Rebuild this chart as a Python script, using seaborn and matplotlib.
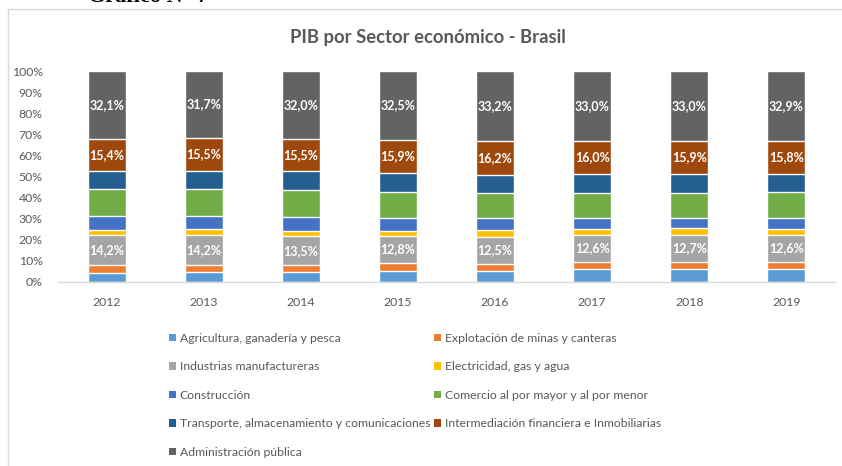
import numpy as np
import pandas as pd
import matplotlib.pyplot as plt
import seaborn as sns
from matplotlib.patches import Patch
from matplotlib.lines import Line2D

# Data (% of GDP per sector)
years = ['2012', '2013', '2014', '2015', '2016', '2017', '2018', '2019']
sectors = ['Agricultura, ganadería y pesca',
           'Explotación de minas y canteras',
           'Industrias manufactureras',
           'Electricidad, gas y agua',
           'Construcción',
           'Comercio al por mayor y al por menor',
           'Transporte, almacenamiento y comunicaciones',
           'Intermediación financiera e Inmobiliarias',
           'Administración pública']
agricultura = [4.3, 4.9, 4.8, 5.2, 5.2, 6.0, 6.1, 6.2]
mineria = [3.6, 3.1, 3.3, 3.9, 3.5, 3.6, 3.6, 3.3]
industria = [14.2, 14.2, 13.5, 12.8, 12.5, 12.6, 12.7, 12.6]
electricidad = [2.7, 2.7, 2.7, 2.5, 3.2, 2.8, 3.0, 2.8]
construccion = [6.6, 6.6, 6.5, 6.0, 5.7, 5.5, 4.7, 5.2]
comercio = [12.6, 12.7, 12.9, 12.1, 11.8, 11.6, 12.1, 12.4]
transporte = [8.5, 8.6, 8.8, 9.1, 8.5, 8.9, 8.8, 8.5]
financiera = [15.4, 15.5, 15.5, 15.9, 16.2, 16.0, 15.9, 15.8]
administracion = [32.1, 31.7, 32.0, 32.5, 33.2, 33.0, 33.0, 32.9]

colors = ['#5B9BD5', '#ED7D31', '#A5A5A5', '#FFC000', '#4472C4',
          '#70AD47', '#255E91', '#9E480E', '#636363']
labeled = [2, 7, 8]  # sectors that carry data labels

values = np.array([agricultura, mineria, industria, electricidad, construccion,
                   comercio, transporte, financiera, administracion])
pct = values / values.sum(axis=0) * 100  # 100% stacked
cum = pct.cumsum(axis=0)

sns.set_style('white')
plt.rcParams['font.family'] = ['Lato', 'DejaVu Sans']

fig = plt.figure(figsize=(8.42, 4.66), dpi=100)
ax = fig.add_axes([58 / 842, 1 - 282 / 466, (835 - 58) / 842, (282 - 71) / 466])

# stacked bars: draw cumulative totals from the top down
for i in range(len(sectors) - 1, -1, -1):
    df = pd.DataFrame({'year': years, 'cum': cum[i]})
    sns.barplot(data=df, x='year', y='cum', color=colors[i], width=0.39,
                saturation=1, ax=ax, zorder=2)

for i in labeled:
    for j, y in enumerate(years):
        mid = cum[i][j] - pct[i][j] / 2
        ax.text(j, mid, f'{values[i][j]:.1f}%'.replace('.', ','), ha='center',
                va='center', color='white', fontsize=9, fontweight='bold', zorder=3)

ax.set_ylim(0, 100)
ax.set_yticks(range(0, 101, 10))
ax.set_yticklabels([f'{t}%' for t in range(0, 101, 10)])
ax.set_xlabel('')
ax.set_ylabel('')
ax.tick_params(axis='both', colors='#595959', labelsize=8.8, length=0)
ax.tick_params(axis='x', pad=11)
ax.tick_params(axis='y', pad=11)
for s in ['top', 'right', 'left']:
    ax.spines[s].set_visible(False)
ax.spines['bottom'].set_color('#D9D9D9')
ax.spines['bottom'].set_linewidth(1)

fig.text(428 / 842, 1 - 38 / 466, 'PIB por Sector económico - Brasil', ha='center',
         va='center', fontsize=13.3, color='#595959', fontweight='bold')

# legend, row-major order as in the original (two columns)
handles = [Patch(facecolor=c, edgecolor='none') for c in colors]
order = [0, 2, 4, 6, 8, 1, 3, 5, 7]
fig.legend([handles[k] for k in order], [sectors[k] for k in order], ncol=2,
           loc='upper left', bbox_to_anchor=(163 / 842, 1 - 327 / 466), frameon=False,
           fontsize=8.8, labelcolor='#595959', handlelength=0.55, handleheight=0.55,
           handletextpad=0.3, columnspacing=0.35, labelspacing=1.42, borderpad=0)

# chart area frame (only left and top edges visible in the crop)
fig.add_artist(Line2D([8 / 842, 8 / 842], [0, 1 - 9 / 466], transform=fig.transFigure,
                      color='#D9D9D9', lw=1))
fig.add_artist(Line2D([8 / 842, 1], [1 - 9 / 466, 1 - 9 / 466], transform=fig.transFigure,
                      color='#D9D9D9', lw=1))
# caption of the page, cut off at the top edge as in the original
fig.text(88 / 842, 1 - 1.8 / 466, 'Gráfico N° 7', ha='left', va='baseline',
         fontsize=16, fontweight='bold', family='Liberation Serif', color='black')

fig.savefig('out.png', dpi=100)
